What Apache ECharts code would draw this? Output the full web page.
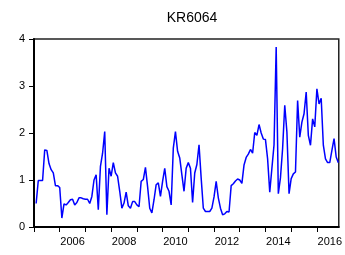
<!DOCTYPE html>
<html>
<head>
<meta charset="utf-8">
<script src="https://cdn.jsdelivr.net/npm/echarts@6/dist/echarts.min.js"></script>
<style>
	html,body{margin:0;padding:0;background:#fff}
	#chart{width:345px;height:255px}
</style>
</head>
<body>
	<div id="chart"></div>
	<script>
		var title = 'KR6064';
		// monthly series, first observation 2005M02
		var startYear = 2005;
		var startMonth = 2;
		var values = [
			0.50, 0.99, 0.99, 0.99, 1.64, 1.63, 1.35, 1.22, 1.15, 0.88, 0.88, 0.84,
			0.19, 0.49, 0.47, 0.52, 0.58, 0.59, 0.47, 0.52, 0.62, 0.62, 0.60, 0.59,
			0.59, 0.50, 0.65, 1.00, 1.11, 0.37, 1.29, 1.57, 2.03, 0.26, 1.25, 1.08,
			1.37, 1.15, 1.08, 0.76, 0.40, 0.51, 0.74, 0.45, 0.40, 0.54, 0.54, 0.47,
			0.43, 0.97, 1.01, 1.27, 0.86, 0.40, 0.30, 0.58, 0.90, 0.94, 0.65, 0.97,
			1.25, 0.86, 0.76, 0.47, 1.68, 2.03, 1.61, 1.47, 1.11, 0.76, 1.25, 1.37,
			1.25, 0.52, 1.15, 1.33, 1.75, 1.04, 0.40, 0.33, 0.33, 0.33, 0.40, 0.64,
			0.97, 0.62, 0.40, 0.26, 0.28, 0.33, 0.32, 0.88, 0.92, 0.98, 1.02, 1.00,
			0.93, 1.32, 1.48, 1.55, 1.65, 1.57, 2.01, 1.95, 2.18, 2.00, 1.87, 1.86,
			1.45, 0.74, 1.25, 1.75, 3.83, 0.71, 1.05, 1.67, 2.59, 2.02, 0.71, 1.03,
			1.13, 1.17, 2.69, 1.91, 2.23, 2.41, 2.87, 1.95, 1.74, 2.30, 2.13, 2.94,
			2.62, 2.74, 1.74, 1.45, 1.37, 1.37, 1.63, 1.88, 1.49, 1.37
		];
		var yearTicks = [2005, 2006, 2007, 2008, 2009, 2010, 2011, 2012, 2013, 2014, 2015, 2016];
		var yearLabels = [2006, 2008, 2010, 2012, 2014, 2016];

		var points = [];
		for (var i = 0; i < values.length; i++) {
			points.push([startYear + (startMonth - 1 + i) / 12, values[i]]);
		}
		// year label sits in the middle of its year
		var labelPos = yearLabels.map(function (y) { return y + 0.5; });

		var font = "'Liberation Sans', Arial, sans-serif";
		var myChart = echarts.init(document.getElementById('chart'));
		option = {
			animation: false,
			backgroundColor: '#fff',
			title: {
				text: title,
				left: 187,
				textAlign: 'center',
				top: 6,
				textStyle: {fontFamily: font, fontSize: 14, fontWeight: 'normal', color: '#000'}
			},
			grid: {
				left: 34,
				right: 5,
				top: 39,
				bottom: 28,
				show: true,
				borderColor: '#222',
				borderWidth: 1.5
			},
			xAxis: {
				type: 'value',
				min: 2005,
				max: 2016.85,
				axisLine: {show: true, lineStyle: {color: '#000', width: 2}},
				axisTick: {show: true, length: 5, customValues: yearTicks, lineStyle: {color: '#000', width: 1}},
				axisLabel: {
					customValues: labelPos,
					margin: 9,
					fontFamily: font,
					fontSize: 11,
					color: '#000',
					formatter: function (v) { return String(Math.floor(v)); }
				},
				splitLine: {show: false}
			},
			yAxis: {
				type: 'value',
				min: 0,
				max: 4,
				interval: 1,
				axisLine: {show: true, lineStyle: {color: '#000', width: 2}},
				axisTick: {show: true, length: 5, lineStyle: {color: '#000', width: 1}},
				axisLabel: {margin: 9, fontFamily: font, fontSize: 11, color: '#000'},
				splitLine: {show: false}
			},
			series: [
				{
					type: 'line',
					data: points,
					showSymbol: false,
					lineStyle: {color: '#0000ff', width: 1.5}
				}
			]
		};
		myChart.setOption(option);
	</script>
</body>
</html>
